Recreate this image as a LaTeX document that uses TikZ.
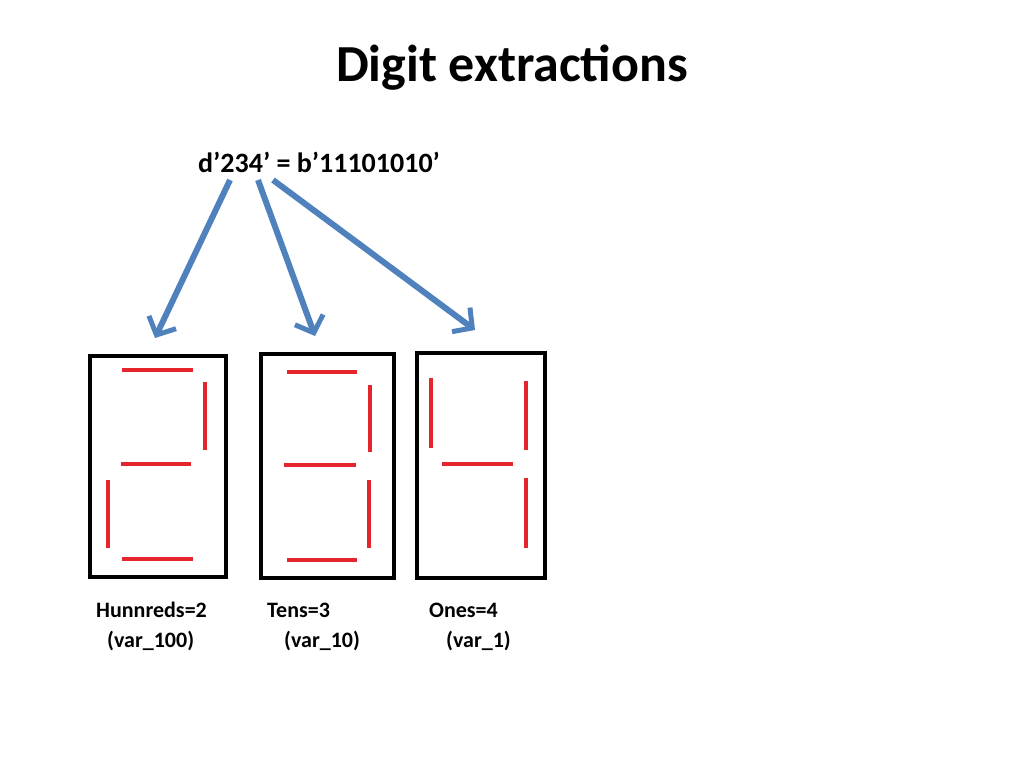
\documentclass[tikz,border=0pt]{standalone}
\usepackage{fontspec}
\setmainfont{Carlito}
\usetikzlibrary{arrows.meta}
\definecolor{arrblue}{HTML}{4F81BD}
\definecolor{segred}{HTML}{E5242B}
\begin{document}
\begin{tikzpicture}[x=1pt,y=-1pt,
  box/.style={draw=black,line width=4pt},
  seg/.style={draw=segred,line width=4.5pt},
  arr/.style={draw=arrblue,line width=6pt,-{Straight Barb[length=14pt,width=30pt,line width=5pt]}},
  lbl/.style={font=\bfseries\fontsize{22}{26}\selectfont,anchor=west,inner sep=0pt}]
\useasboundingbox (0,0) rectangle (1024,768);
\node[font=\bfseries\fontsize{52}{60}\selectfont] (title) at (512,68) {Digit extractions};
\node[font=\bfseries\fontsize{28}{32}\selectfont,anchor=west,inner sep=0pt] (eq) at (198,162) {d’234’ = b’11101010’};
% boxes
\draw[box] (90,356) rectangle (226,577);
\draw[box] (261,354) rectangle (394,578);
\draw[box] (417,353) rectangle (545,578);
% digit 2
\draw[seg] (122,370)--(193,370);
\draw[seg] (205,382)--(205,450);
\draw[seg] (121,464)--(191,464);
\draw[seg] (108,480)--(108,548);
\draw[seg] (122,559)--(193,559);
% digit 3
\draw[seg] (287,372)--(357,372);
\draw[seg] (370,385)--(370,452);
\draw[seg] (284,465)--(356,465);
\draw[seg] (369,480)--(369,548);
\draw[seg] (287,560)--(357,560);
% digit 4
\draw[seg] (431,378)--(431,448);
\draw[seg] (526,381)--(526,450);
\draw[seg] (442,464)--(513,464);
\draw[seg] (526,478)--(526,548);
% arrows
\coordinate (s1) at (230,180); \coordinate (e1) at (155,338);
\coordinate (s2) at (258,180); \coordinate (e2) at (315,336);
\coordinate (s3) at (273,180); \coordinate (e3) at (475,330);
\draw[arr] (s1)--(e1);
\draw[arr] (s2)--(e2);
\draw[arr] (s3)--(e3);
% labels
\node[lbl] (l1) at (96,610) {Hunnreds=2};
\node[lbl] (l1b) at (107,641) {(var\_100)};
\node[lbl] (l2) at (267,610) {Tens=3};
\node[lbl] (l2b) at (284,641) {(var\_10)};
\node[lbl] (l3) at (429,610) {Ones=4};
\node[lbl] (l3b) at (446,641) {(var\_1)};
\end{tikzpicture}
\end{document}
